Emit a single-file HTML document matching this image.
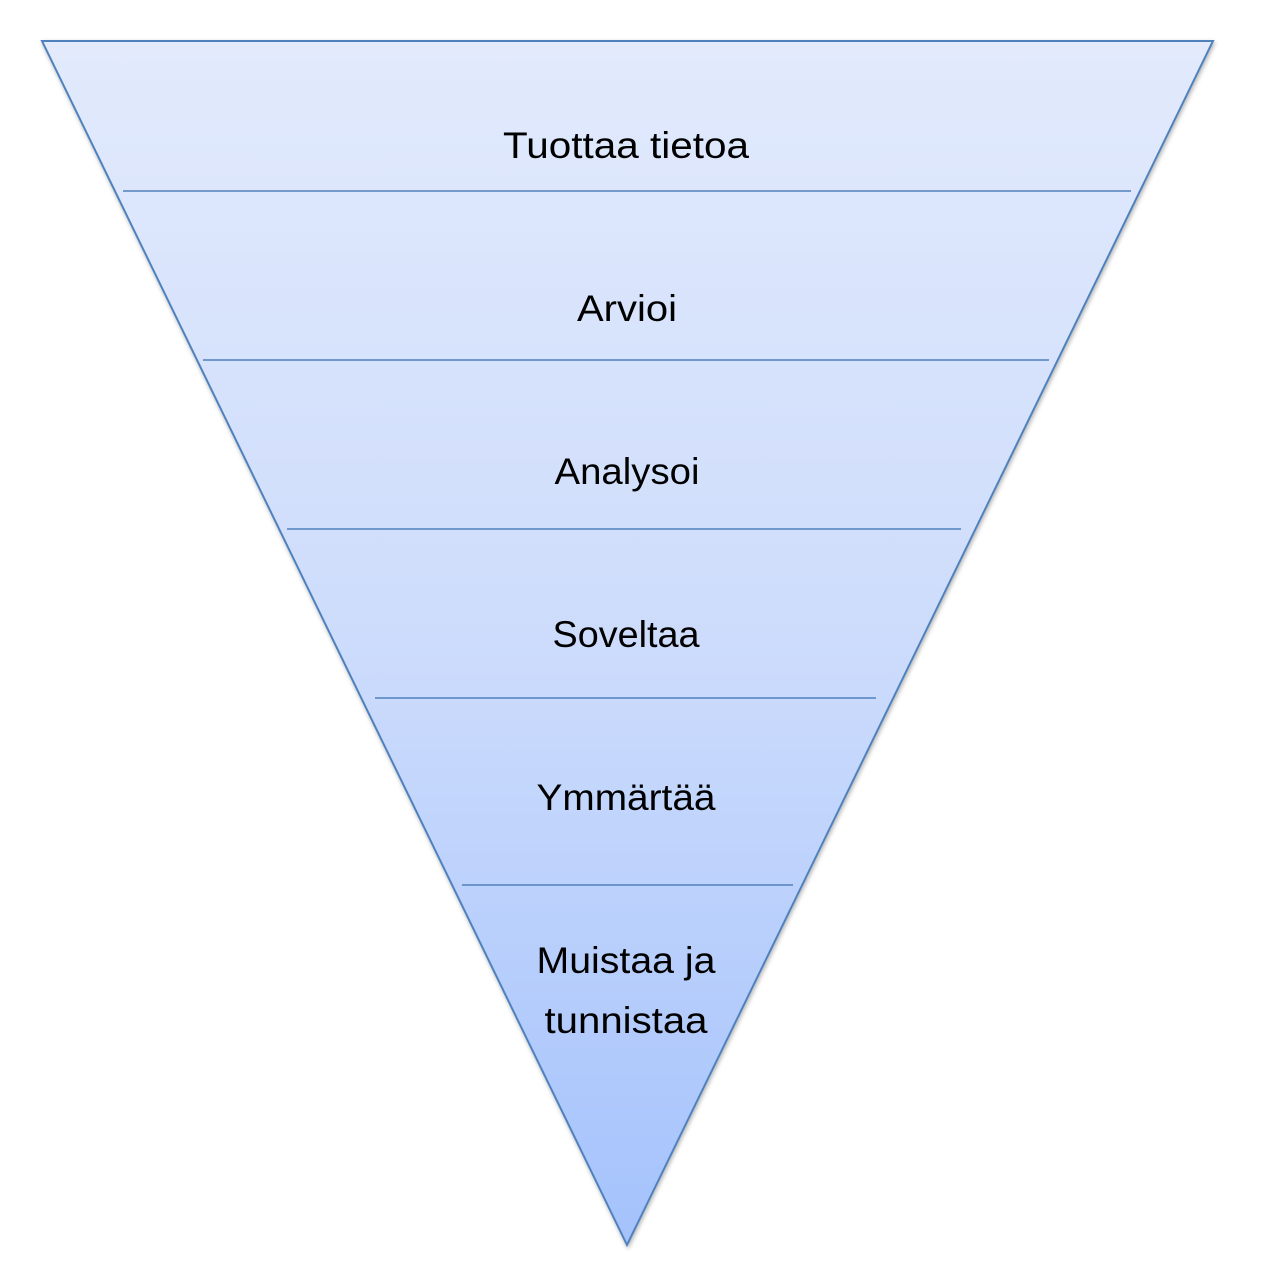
<!DOCTYPE html>
<html><head><meta charset="utf-8"><style>
html,body{margin:0;padding:0;background:#fff;}
svg{display:block;}
text{font-family:"Liberation Sans",sans-serif;font-size:37px;fill:#000;text-anchor:middle;}
</style></head><body>
<svg width="1272" height="1268" viewBox="0 0 1272 1268">
<defs>
<linearGradient id="g" x1="0" y1="0" x2="0" y2="1">
<stop offset="0" stop-color="#e2eafc"/>
<stop offset="0.5" stop-color="#cddcfc"/>
<stop offset="1" stop-color="#a4c2fc"/>
</linearGradient>
<filter id="s" x="-5%" y="-5%" width="110%" height="110%"><feDropShadow dx="1" dy="2" stdDeviation="2" flood-color="#000" flood-opacity="0.3"/></filter>
</defs>
<polygon points="42,41 1213,41 627,1245" fill="url(#g)" stroke="#4f81bd" stroke-width="2" filter="url(#s)"/>
<g stroke="#4f81bd" stroke-width="1.5">
<line x1="123" y1="191" x2="1131" y2="191"/>
<line x1="203" y1="360" x2="1049" y2="360"/>
<line x1="287" y1="529" x2="961" y2="529"/>
<line x1="375" y1="698" x2="876" y2="698"/>
<line x1="462" y1="885" x2="793" y2="885"/>
</g>
<text x="626" y="158" textLength="246" lengthAdjust="spacingAndGlyphs">Tuottaa tietoa</text>
<text x="627" y="321" textLength="100" lengthAdjust="spacingAndGlyphs">Arvioi</text>
<text x="627" y="484" textLength="145" lengthAdjust="spacingAndGlyphs">Analysoi</text>
<text x="626" y="647" textLength="147" lengthAdjust="spacingAndGlyphs">Soveltaa</text>
<text x="626" y="810" textLength="179" lengthAdjust="spacingAndGlyphs">Ymmärtää</text>
<text x="626" y="973" textLength="179" lengthAdjust="spacingAndGlyphs">Muistaa ja</text>
<text x="626" y="1033" textLength="163" lengthAdjust="spacingAndGlyphs">tunnistaa</text>
</svg>
</body></html>
